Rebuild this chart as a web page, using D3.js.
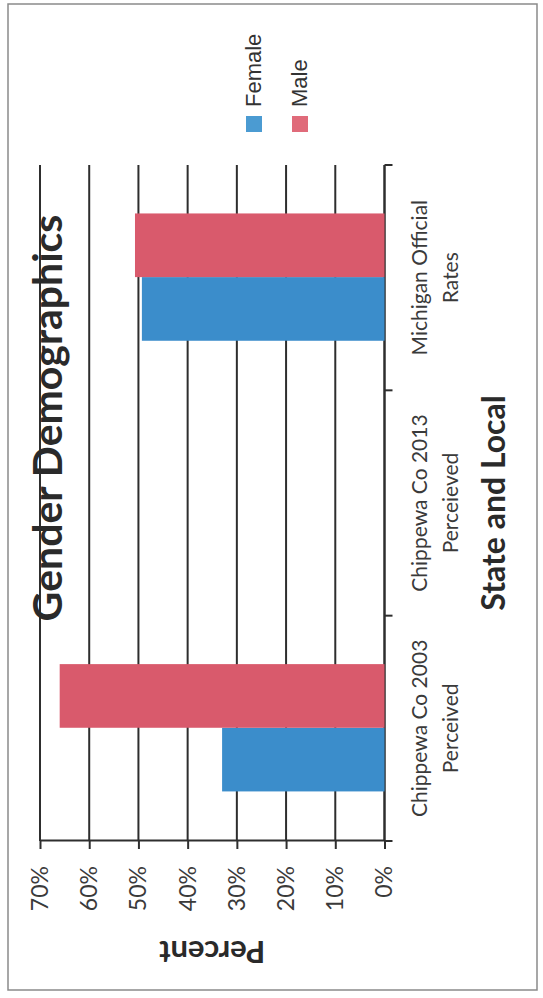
<!DOCTYPE html>
<html lang="en">

<head>
    <meta charset="UTF-8">
    <title>Gender Demographics</title>
    <style>
        body {
            margin: 0;
            padding: 0;
            overflow: hidden;
            background-color: #ffffff;
        }

        svg {
            display: block;
        }
    </style>
</head>

<body>
    <script src="https://d3js.org/d3.v7.min.js"></script>
    <script>
        // chart data
        const categories = ['Chippewa Co 2003', 'Chippewa Co 2013', 'Michigan Official'];
        const categoryLines = [
            ['Chippewa Co 2003', 'Perceived'],
            ['Chippewa Co 2013', 'Perceieved'],
            ['Michigan Official', 'Rates']
        ];
        const seriesNames = ['Female', 'Male'];
        const femaleValues = [0.33, null, 0.493];
        const maleValues = [0.66, null, 0.507];
        const tickValues = [0, 0.1, 0.2, 0.3, 0.4, 0.5, 0.6, 0.7];
        const colors = ['#3b8dcb', '#d95a6c'];
        const legendColors = ['#4b9bd2', '#e06b7a'];

        const pageW = 543;
        const pageH = 998;

        // the chart is drawn upright (W x H) and then turned a quarter left
        const W = pageH;
        const H = pageW;

        const svg = d3.select('body')
            .append('svg')
            .attr('width', pageW)
            .attr('height', pageH);

        const chart = svg.append('g')
            .attr('transform', `translate(0,${pageH}) rotate(-90)`);

        const font = 'Lato, "Open Sans", sans-serif';

        // outer frame
        chart.append('rect')
            .attr('x', 8)
            .attr('y', 8)
            .attr('width', W - 12)
            .attr('height', H - 14)
            .attr('fill', '#fff')
            .attr('stroke', '#8a8a8a')
            .attr('stroke-width', 1.5);

        const plotL = 157, plotR = 833;
        const plotT = 40, plotB = 384.5;

        const x0 = d3.scaleBand()
            .domain(categories)
            .range([plotL, plotR]);

        const bw = x0.bandwidth();
        const x1 = d3.scaleBand()
            .domain(seriesNames)
            .range([bw * 0.22, bw * 0.785]);

        const y = d3.scaleLinear()
            .domain([0, 0.7])
            .range([plotB, plotT]);

        // gridlines
        chart.append('g')
            .selectAll('line')
            .data(tickValues)
            .enter()
            .append('line')
            .attr('x1', plotL)
            .attr('x2', plotR)
            .attr('y1', d => y(d))
            .attr('y2', d => y(d))
            .attr('stroke', '#2e2e2e')
            .attr('stroke-width', 2);

        // value axis
        const yAxis = chart.append('g')
            .attr('transform', `translate(${plotL},0)`)
            .call(d3.axisLeft(y)
                .tickValues(tickValues)
                .tickFormat(d3.format('.0%'))
                .tickSize(8)
                .tickSizeOuter(0)
                .tickPadding(17));

        yAxis.select('.domain').attr('stroke', '#2e2e2e').attr('stroke-width', 2);
        yAxis.selectAll('.tick line').attr('stroke', '#2e2e2e').attr('stroke-width', 2);
        yAxis.selectAll('.tick text')
            .attr('font-family', font)
            .attr('font-size', 23)
            .attr('fill', '#3a3a3a');

        // category axis (ticks between categories)
        const bounds = categories.map(c => x0(c)).concat([plotR]);
        chart.append('line')
            .attr('x1', plotL)
            .attr('x2', plotR)
            .attr('y1', y(0))
            .attr('y2', y(0))
            .attr('stroke', '#2e2e2e')
            .attr('stroke-width', 2);

        chart.append('g')
            .selectAll('line')
            .data(bounds)
            .enter()
            .append('line')
            .attr('x1', d => d)
            .attr('x2', d => d)
            .attr('y1', y(0))
            .attr('y2', y(0) + 8)
            .attr('stroke', '#2e2e2e')
            .attr('stroke-width', 2);

        // bars
        const rows = categories.map((c, i) => ({
            cat: c,
            vals: [femaleValues[i], maleValues[i]]
        }));

        const groups = chart.append('g')
            .selectAll('g')
            .data(rows)
            .enter()
            .append('g')
            .attr('transform', d => `translate(${x0(d.cat)},0)`);

        groups.selectAll('rect')
            .data(d => d.vals.map((v, j) => ({ name: seriesNames[j], v: v, j: j })).filter(d => d.v != null))
            .enter()
            .append('rect')
            .attr('x', d => x1(d.name))
            .attr('width', x1.bandwidth())
            .attr('y', d => y(d.v))
            .attr('height', d => y(0) - y(d.v))
            .attr('fill', d => colors[d.j]);

        // category labels
        const catText = chart.append('g')
            .selectAll('text')
            .data(categories)
            .enter()
            .append('text')
            .attr('text-anchor', 'middle')
            .attr('font-family', font)
            .attr('font-size', 21)
            .attr('fill', '#3a3a3a');

        catText.each(function (d, i) {
            const t = d3.select(this);
            categoryLines[i].forEach((line, k) => {
                t.append('tspan')
                    .attr('x', x0(d) + bw / 2)
                    .attr('y', 427 + k * 31)
                    .text(line);
            });
        });

        // titles
        chart.append('text')
            .attr('x', 580)
            .attr('y', 62)
            .attr('text-anchor', 'middle')
            .attr('font-family', font)
            .attr('font-weight', 'bold')
            .attr('font-size', 41)
            .attr('fill', '#2a2a2a')
            .text('Gender Demographics');

        chart.append('text')
            .attr('x', (plotL + plotR) / 2)
            .attr('y', 505)
            .attr('text-anchor', 'middle')
            .attr('font-family', font)
            .attr('font-weight', 'bold')
            .attr('font-size', 32)
            .attr('fill', '#2a2a2a')
            .text('State and Local');

        chart.append('text')
            .attr('transform', `translate(57,${(plotT + plotB) / 2}) rotate(-90)`)
            .attr('text-anchor', 'middle')
            .attr('font-family', font)
            .attr('font-weight', 'bold')
            .attr('font-size', 31)
            .attr('fill', '#2a2a2a')
            .text('Percent');

        // legend
        const legend = chart.append('g')
            .selectAll('g')
            .data(seriesNames)
            .enter()
            .append('g')
            .attr('transform', (d, i) => `translate(866,${246 + i * 46})`);

        legend.append('rect')
            .attr('width', 16)
            .attr('height', 16)
            .attr('fill', (d, i) => legendColors[i]);

        legend.append('text')
            .attr('x', 25)
            .attr('y', 15)
            .attr('font-family', '"Liberation Sans", Arial, sans-serif')
            .attr('font-size', 22)
            .attr('fill', '#333')
            .text(d => d);
    </script>
</body>

</html>
